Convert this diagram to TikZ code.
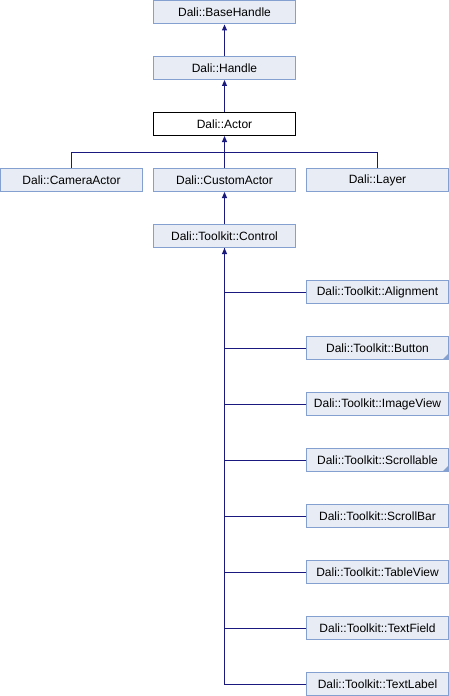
\documentclass[tikz,border=0pt]{standalone}
\usepackage{fontspec}
\setmainfont{Liberation Sans}
\usepackage{xcolor}
\usetikzlibrary{arrows.meta,calc,positioning}
\definecolor{boxfill}{HTML}{E8ECF4}
\definecolor{boxline}{HTML}{84A0D0}
\definecolor{linkcol}{HTML}{191980}

\begin{document}
\begin{tikzpicture}[x=1bp,y=-1bp,
		cls/.style={draw=boxline, fill=boxfill, line width=1bp, minimum width=142bp, minimum height=23bp, inner sep=0pt, font=\fontsize{12bp}{14bp}\selectfont},
		cur/.style={cls, draw=black, fill=white},
		link/.style={draw=linkcol, line width=1bp},
		inh/.style={link, -{Triangle[length=6bp,width=5bp]}}]
		\useasboundingbox (0,0) rectangle (449,696);

		\node[cls] (basehandle) at (224.5,12.5) {Dali::BaseHandle};
		\node[cls] (handle) at (224.5,68) {Dali::Handle};
		\node[cur] (actor) at (224.5,124) {Dali::Actor};

		\node[cls] (camera) at (71.5,180) {Dali::CameraActor};
		\node[cls] (custom) at (224.5,180) {Dali::CustomActor};
		\node[cls] (layer) at (377.5,180) {Dali::Layer};
		\node[cls] (control) at (224.5,236) {Dali::Toolkit::Control};

		\node[cls] (alignment) at (377.5,292) {Dali::Toolkit::Alignment};
		\node[cls] (button) at (377.5,348) {Dali::Toolkit::Button};
		\node[cls] (imageview) at (377.5,404) {Dali::Toolkit::ImageView};
		\node[cls] (scrollable) at (377.5,460) {Dali::Toolkit::Scrollable};
		\node[cls] (scrollbar) at (377.5,516) {Dali::Toolkit::ScrollBar};
		\node[cls] (tableview) at (377.5,572) {Dali::Toolkit::TableView};
		\node[cls] (textfield) at (377.5,628) {Dali::Toolkit::TextField};
		\node[cls] (textlabel) at (377.5,684) {Dali::Toolkit::TextLabel};

		% small corner marks
		\fill[boxline] ([shift={(-1,-1)}]button.south east) -- ++(-5,0) -- ++(5,-5) -- cycle;
		\fill[boxline] ([shift={(-1,-1)}]scrollable.south east) -- ++(-5,0) -- ++(5,-5) -- cycle;

		\coordinate (actorjoin) at (224.5,152);

		\draw[inh] (handle) -- (basehandle);
		\draw[inh] (actor) -- (handle);
		\draw[link] (camera) |- (actorjoin);
		\draw[link] (layer) |- (actorjoin);
		\draw[inh] (custom) -- (actor);
		\draw[inh] (control) -- (custom);

		\draw[link] (alignment) -| (control);
		\draw[link] (button) -| (control);
		\draw[link] (imageview) -| (control);
		\draw[link] (scrollable) -| (control);
		\draw[link] (scrollbar) -| (control);
		\draw[link] (tableview) -| (control);
		\draw[link] (textfield) -| (control);
		\draw[inh] (textlabel) -| (control);
	\end{tikzpicture}
\end{document}
